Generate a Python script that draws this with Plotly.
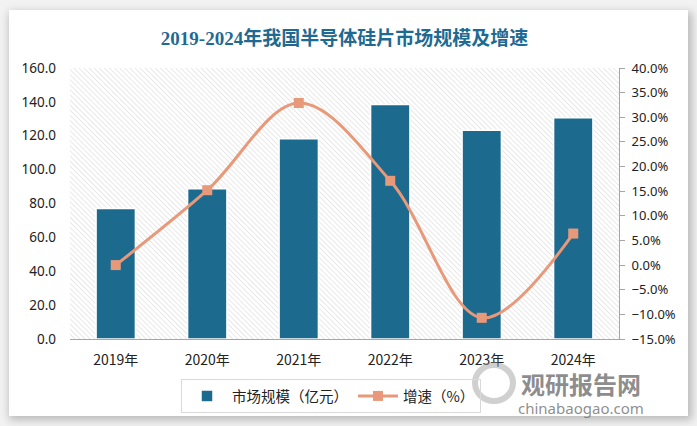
import base64

import plotly.graph_objects as go

years = ["2019年", "2020年", "2021年", "2022年", "2023年", "2024年"]
market_size = [77.0, 88.7, 118.2, 138.5, 123.2, 130.6]
growth_pct = [0.0, 15.2, 32.9, 17.1, -10.7, 6.4]

BAR_COLOR = "#1C6B8E"
LINE_COLOR = "#E8997A"
TITLE_COLOR = "#1F6A93"
TICK_FONT = "Noto Sans, Open Sans, sans-serif"
CJK_FONT = "Noto Sans CJK SC, sans-serif"

W, H = 697, 426
L, R, T, B = 70, 78, 68, 87
PW, PH = W - L - R, H - T - B

# card with drop shadow + hatched plot area, drawn as one background image
bg_svg = f"""<svg xmlns="http://www.w3.org/2000/svg" width="{W}" height="{H}" viewBox="0 0 {W} {H}">
<defs>
<pattern id="h" width="3.6" height="3.6" patternUnits="userSpaceOnUse" patternTransform="rotate(-45)">
<line x1="0" y1="0" x2="0" y2="3.6" stroke="#d2d2d2" stroke-width="1"/>
</pattern>
<filter id="s" x="-5%" y="-5%" width="110%" height="110%"><feGaussianBlur stdDeviation="4"/></filter>
</defs>
<rect width="{W}" height="{H}" fill="#f2f2f2"/>
<rect x="9" y="12" width="683" height="408" fill="#b9b9b9" filter="url(#s)"/>
<rect x="9" y="10" width="679" height="406" fill="#ffffff"/>
<rect x="{L}" y="{T}" width="{PW}" height="{PH}" fill="url(#h)"/>
</svg>"""
bg_uri = "data:image/svg+xml;base64," + base64.b64encode(bg_svg.encode()).decode()

fig = go.Figure()
fig.add_trace(
    go.Bar(
        x=years,
        y=market_size,
        name="市场规模（亿元）",
        marker=dict(color=BAR_COLOR, line=dict(color="white", width=1.5)),
        yaxis="y",
    )
)
fig.add_trace(
    go.Scatter(
        x=years,
        y=growth_pct,
        name="增速（%）",
        mode="lines+markers",
        line=dict(color=LINE_COLOR, width=3, shape="spline", smoothing=1.0),
        marker=dict(symbol="square", size=10, color=LINE_COLOR),
        yaxis="y2",
    )
)

fig.add_layout_image(
    dict(
        source=bg_uri,
        xref="paper",
        yref="paper",
        x=-L / PW,
        y=1 + T / PH,
        sizex=W / PW,
        sizey=H / PH,
        xanchor="left",
        yanchor="top",
        sizing="stretch",
        layer="below",
    )
)

# watermark
fig.add_shape(
    type="circle",
    xref="paper",
    yref="paper",
    x0=(475 - L) / PW,
    x1=(513 - L) / PW,
    y0=(339 - 401) / PH,
    y1=(339 - 365) / PH,
    line=dict(color="rgba(150,150,150,0.45)", width=6),
)
fig.add_annotation(
    text=(
        "<b><span style='font-size:24px'>观研报告网</span></b><br>"
        "<span style='font-size:15px;font-family:Noto Sans'>chinabaogao.com</span>"
    ),
    xref="paper",
    yref="paper",
    x=(581 - L) / PW,
    y=(339 - 392) / PH,
    xanchor="center",
    yanchor="middle",
    align="center",
    showarrow=False,
    font=dict(family=CJK_FONT, size=15, color="rgba(120,120,120,0.85)"),
)

fig.update_layout(
    width=W,
    height=H,
    margin=dict(l=L, r=R, t=T, b=B, autoexpand=False),
    paper_bgcolor="white",
    plot_bgcolor="rgba(0,0,0,0)",
    bargap=0.57,
    title=dict(
        text="<b>2019-2024年我国半导体硅片市场规模及增速</b>",
        x=0.5,
        xref="paper",
        y=1 - 38 / H,
        yanchor="middle",
        font=dict(family="Liberation Serif, " + CJK_FONT, size=19, color=TITLE_COLOR),
    ),
    xaxis=dict(
        showline=True,
        linecolor="#a6a6a6",
        linewidth=1,
        ticks="",
        tickfont=dict(family=CJK_FONT, size=14, color="#222222"),
        showgrid=False,
        ticklabelstandoff=8,
    ),
    yaxis=dict(
        range=[0, 160],
        dtick=20,
        tickformat=".1f",
        showgrid=False,
        zeroline=False,
        showline=False,
        tickfont=dict(family=TICK_FONT, size=13.5, color="#222222"),
        ticklabelstandoff=13,
    ),
    yaxis2=dict(
        overlaying="y",
        side="right",
        range=[-15, 40],
        dtick=5,
        tickformat=".1f",
        ticksuffix="%",
        showgrid=False,
        zeroline=False,
        showline=True,
        linecolor="#a6a6a6",
        ticks="outside",
        ticklen=5,
        tickcolor="#a6a6a6",
        tickfont=dict(family=TICK_FONT, size=13, color="#222222"),
        ticklabelstandoff=4,
    ),
    legend=dict(
        orientation="h",
        x=(181 - L) / PW,
        y=(339 - 379) / PH,
        xanchor="left",
        yanchor="top",
        bordercolor="#d9d9d9",
        borderwidth=1,
        bgcolor="rgba(255,255,255,0)",
        font=dict(family=CJK_FONT, size=14.5, color="#222222"),
        itemwidth=40,
        tracegroupgap=0,
    ),
    showlegend=True,
)

# the page body has a default 8px margin; drop it so the figure fills the window
fig.write_html(
    "out.html",
    config={"displayModeBar": False},
    post_script="document.body.style.margin='0';",
)
